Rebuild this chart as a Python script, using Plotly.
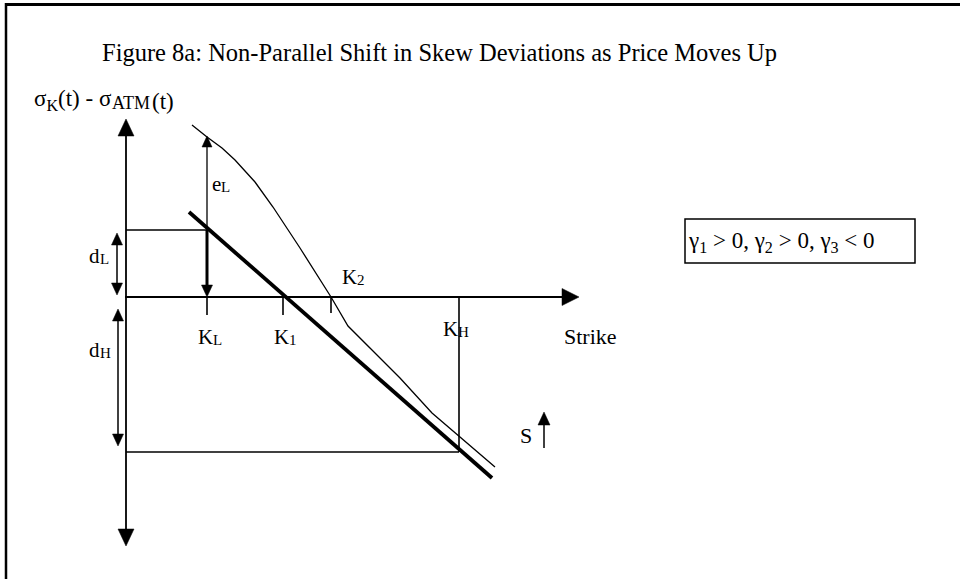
import plotly.graph_objects as go

# Canvas units (x to the right, y downward), matching the page size
W, H = 960, 579

# Axes of the diagram
origin_x, origin_y = 126, 297          # where strike axis meets the deviation axis
vaxis_top, vaxis_bottom = 119, 546     # arrow tips of the deviation axis
haxis_left, haxis_right = 125, 579     # strike axis extent (right end is the arrow tip)

# Strike marks on the horizontal axis
strike_names = ["L", "1", "2", "H"]
strike_x = [207, 283, 331, 459]
tick_bottom = [315, 315, 313, 452]     # KH is a guide line down to the dH level

# Deviation levels
dL_level = 230
dH_level = 452

# Straight skew-deviation line (bold)
line_x = [189, 492]
line_y = [212, 478]

# Curved skew-deviation line (thin)
curve_x = [192, 207, 222, 235, 255, 273, 300, 331, 348, 400, 432, 459, 495]
curve_y = [125, 137, 148, 160, 182, 207, 248, 297, 326, 378, 413, 436, 467]

# Double arrows for dL and dH
dL_arrow = dict(x=117, y0=233, y1=295)
dH_arrow = dict(x=118, y0=309, y1=446)

# Price move arrow
S_arrow = dict(x=544, y0=448, y1=412)

SERIF = "Liberation Serif, Times New Roman, serif"

fig = go.Figure()


def seg(xs, ys, width=1.3):
    fig.add_trace(go.Scatter(x=xs, y=ys, mode="lines",
                             line=dict(color="black", width=width),
                             hoverinfo="skip", showlegend=False))


def head(tx, ty, dx, dy, length=16, width=16):
    """Filled triangular arrowhead with its tip at (tx, ty) pointing along (dx, dy)."""
    n = (dx * dx + dy * dy) ** 0.5
    ux, uy = dx / n, dy / n
    px, py = -uy, ux
    bx, by = tx - ux * length, ty - uy * length
    xs = [tx, bx + px * width / 2, bx - px * width / 2, tx]
    ys = [ty, by + py * width / 2, by - py * width / 2, ty]
    fig.add_trace(go.Scatter(x=xs, y=ys, mode="lines", fill="toself",
                             fillcolor="black", line=dict(color="black", width=0.5),
                             hoverinfo="skip", showlegend=False))


# Deviation axis with arrows at both ends
seg([origin_x, origin_x], [vaxis_top + 14, vaxis_bottom - 14], 1.8)
head(origin_x, vaxis_top, 0, -1, 17, 16)
head(origin_x, vaxis_bottom, 0, 1, 17, 16)

# Strike axis
seg([haxis_left, haxis_right - 14], [origin_y, origin_y], 1.8)
head(haxis_right, origin_y, 1, 0, 17, 17)

# Strike ticks and KH guide
for sx, sb in zip(strike_x, tick_bottom):
    seg([sx, sx], [origin_y, sb], 1.6)

# Level guides
seg([origin_x, strike_x[0]], [dL_level, dL_level], 1.3)
seg([origin_x, strike_x[3]], [dH_level, dH_level], 1.3)

# dL and dH double arrows
for a in (dL_arrow, dH_arrow):
    seg([a["x"], a["x"]], [a["y0"] + 9, a["y1"] - 9], 1.5)
    head(a["x"], a["y0"], 0, -1, 12, 11)
    head(a["x"], a["y1"], 0, 1, 12, 11)

# eL arrow from the straight line up to the curve, and the bold drop to the axis
seg([strike_x[0], strike_x[0]], [curve_y[1] + 9, dL_level], 1.3)
head(strike_x[0], curve_y[1] - 1, 0, -1, 11, 10)
seg([strike_x[0], strike_x[0]], [dL_level, origin_y - 9], 3)
head(strike_x[0], origin_y, 0, 1, 12, 11)

# Skew lines
seg(curve_x, curve_y, 1.3)
seg(line_x, line_y, 3.8)

# Price up arrow
seg([S_arrow["x"], S_arrow["x"]], [S_arrow["y0"], S_arrow["y1"] + 10], 1.5)
head(S_arrow["x"], S_arrow["y1"], 0, -1, 13, 12)


def label(x, y, text, size=21, xanchor="center", yanchor="middle"):
    fig.add_annotation(x=x, y=y, text=text, showarrow=False, xanchor=xanchor,
                       yanchor=yanchor, borderpad=0, borderwidth=0,
                       font=dict(family=SERIF, size=size, color="black"))


def small_caps_label(split_x, y_mid, big, small, big_size=21, small_size=15):
    """Letter followed by a smaller, baseline-aligned suffix (e.g. K with a small L)."""
    y_base = y_mid + big_size * 0.62
    label(split_x, y_base, big, big_size, "right", "bottom")
    label(split_x, y_base - (big_size - small_size) * 0.25, small, small_size, "left", "bottom")


label(439, 52, "Figure 8a: Non-Parallel Shift in Skew Deviations as Price Moves Up", 24.5)

# Vertical axis title: sigma_K(t) - sigma ATM (t)
ylab_y = 100
ylab_size, atm_size = 23, 18
label(112, ylab_y + ylab_size * 0.62, "σ<sub>K</sub>(t) - σ", ylab_size, "right", "bottom")
label(112, ylab_y + ylab_size * 0.62 - 1.5, "ATM", atm_size, "left", "bottom")
label(152, ylab_y + ylab_size * 0.62, "(t)", ylab_size, "left", "bottom")

small_caps_label(221, 183, "e", "L")
small_caps_label(100, 255, "d", "L")
small_caps_label(100, 349, "d", "H")
small_caps_label(213, 336, "K", strike_names[0])
small_caps_label(289, 336, "K", strike_names[1])
small_caps_label(357, 276, "K", strike_names[2])
small_caps_label(458, 328, "K", strike_names[3])

label(590, 336, "Strike", 22)
label(526, 435, "S", 22)
label(688, 242, "γ<sub>1</sub> &gt; 0, γ<sub>2</sub> &gt; 0, γ<sub>3</sub> &lt; 0", 23, "left")

shapes = [
    # condition box
    dict(type="rect", x0=685, x1=915, y0=219, y1=263, xref="x", yref="y",
         line=dict(color="black", width=1.5)),
    # page frame (top and left edges)
    dict(type="line", x0=5, x1=W, y0=4.5, y1=4.5, xref="x", yref="y",
         line=dict(color="black", width=3)),
    dict(type="line", x0=6, x1=6, y0=3, y1=H, xref="x", yref="y",
         line=dict(color="black", width=2.5)),
]

fig.update_layout(
    width=W, height=H,
    margin=dict(l=0, r=0, t=0, b=0),
    paper_bgcolor="white", plot_bgcolor="white",
    xaxis=dict(range=[0, W], visible=False, fixedrange=True),
    yaxis=dict(range=[H, 0], visible=False, fixedrange=True),
    shapes=shapes,
    showlegend=False,
)

fig.write_html("out.html", config={"displayModeBar": False})
